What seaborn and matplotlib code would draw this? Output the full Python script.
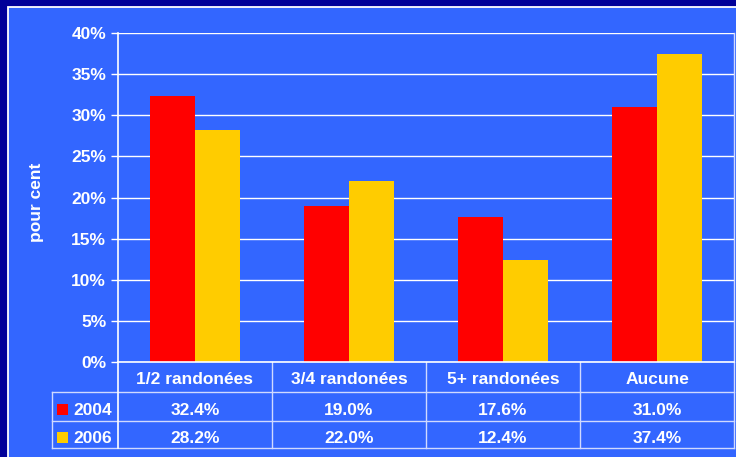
import matplotlib
matplotlib.use("Agg")
import matplotlib.pyplot as plt
from matplotlib.patches import Rectangle
import pandas as pd
import seaborn as sns

# Survey: number of hikes taken, share of respondents per year
categories = ["1/2 randonées", "3/4 randonées", "5+ randonées", "Aucune"]
years = ["2004", "2006"]
values_2004 = [32.4, 19.0, 17.6, 31.0]
values_2006 = [28.2, 22.0, 12.4, 37.4]
y_ticks = [0, 5, 10, 15, 20, 25, 30, 35, 40]

NAVY = "#000099"
PANEL = "#3366FF"
RED = "#FF0000"
GOLD = "#FFCC00"
TABLE_LINE = "#D0D9FF"
FS = 12.5

df = pd.DataFrame({
    "categorie": categories * 2,
    "annee": [years[0]] * len(categories) + [years[1]] * len(categories),
    "pct": values_2004 + values_2006,
})

plt.rcParams["font.family"] = ["Liberation Sans", "DejaVu Sans"]
plt.rcParams["font.weight"] = "bold"

W, H = 736, 457
fig = plt.figure(figsize=(W / 100, H / 100), dpi=100, facecolor=NAVY)

# blue panel with a thin white frame
fig.patches.append(Rectangle((7.5 / W, -0.05), 1.0, 1 - 6.5 / H + 0.05,
                             transform=fig.transFigure, facecolor=PANEL,
                             edgecolor="white", lw=1.3, zorder=-10))

ax = fig.add_axes([118 / W, (H - 362) / H, 616 / W, 329 / H])
ax.set_facecolor("none")

palette = {years[0]: RED, years[1]: GOLD}
sns.barplot(data=df, x="categorie", y="pct", hue="annee", order=categories,
            hue_order=years, palette=palette, width=0.584, saturation=1,
            legend=False, ax=ax, edgecolor="none", linewidth=0)

ax.set_xlim(-0.5, len(categories) - 0.5)
ax.set_ylim(0, 40)
ax.set_yticks(y_ticks)
ax.set_yticklabels([f"{t}%" for t in y_ticks])
ax.yaxis.grid(True, color="white", lw=1)
ax.set_axisbelow(True)
ax.set_xlabel("")
ax.set_ylabel("")
ax.tick_params(axis="y", colors="white", length=5, width=1, pad=3.5, labelsize=FS)
ax.tick_params(axis="x", length=0, labelbottom=False)
ax.spines["top"].set_visible(False)
ax.spines["left"].set_color("white")
ax.spines["left"].set_linewidth(1.2)
ax.spines["bottom"].set_color("white")
ax.spines["bottom"].set_linewidth(1.2)
ax.spines["right"].set_color(TABLE_LINE)
ax.spines["right"].set_linewidth(1)

fig.text(36 / W, 1 - 202 / H, "pour cent", rotation=90, ha="center", va="center",
         color="white", fontsize=FS, fontweight="bold")

# data table under the axis
tx = ax.get_xaxis_transform()
ppx = 616 / len(categories)           # pixels per category
left_edge = -0.5 - (118 - 52) / ppx   # left border of the row-label column
row_lines = [-(392 - 362) / 329, -(421 - 362) / 329, -(448 - 362) / 329]
bottom = row_lines[-1]
for yl in row_lines:
    ax.plot([left_edge, len(categories) - 0.5], [yl, yl], transform=tx,
            color=TABLE_LINE, lw=1, clip_on=False)
ax.plot([left_edge, left_edge], [row_lines[0], bottom], transform=tx,
        color=TABLE_LINE, lw=1, clip_on=False)
for i in range(len(categories) + 1):
    xv = i - 0.5
    col = "white" if i == 0 else TABLE_LINE
    ax.plot([xv, xv], [0, bottom], transform=tx, color=col,
            lw=1.2 if i == 0 else 1, clip_on=False)

text_kw = dict(color="white", fontsize=FS, fontweight="bold",
               ha="center", va="center_baseline", transform=tx, clip_on=False)
header_y = -(378 - 362) / 329
row_y = [-(409 - 362) / 329, -(437 - 362) / 329]
for i, c in enumerate(categories):
    ax.text(i, header_y, c, **text_kw)
for r, (yr, vals, colr) in enumerate(zip(years, [values_2004, values_2006], [RED, GOLD])):
    for i, v in enumerate(vals):
        ax.text(i, row_y[r], f"{v:.1f}%", **text_kw)
    sq = 11 / ppx
    sq_h = 11 / 329
    ax.add_patch(Rectangle((left_edge + 5 / ppx, row_y[r] - sq_h / 2), sq, sq_h,
                           transform=tx, facecolor=colr, edgecolor="none",
                           clip_on=False))
    ax.text(left_edge + 21 / ppx, row_y[r], yr, color="white", fontsize=FS,
            fontweight="bold", ha="left", va="center_baseline", transform=tx,
            clip_on=False)

fig.savefig("out.png", dpi=100, facecolor=NAVY)
